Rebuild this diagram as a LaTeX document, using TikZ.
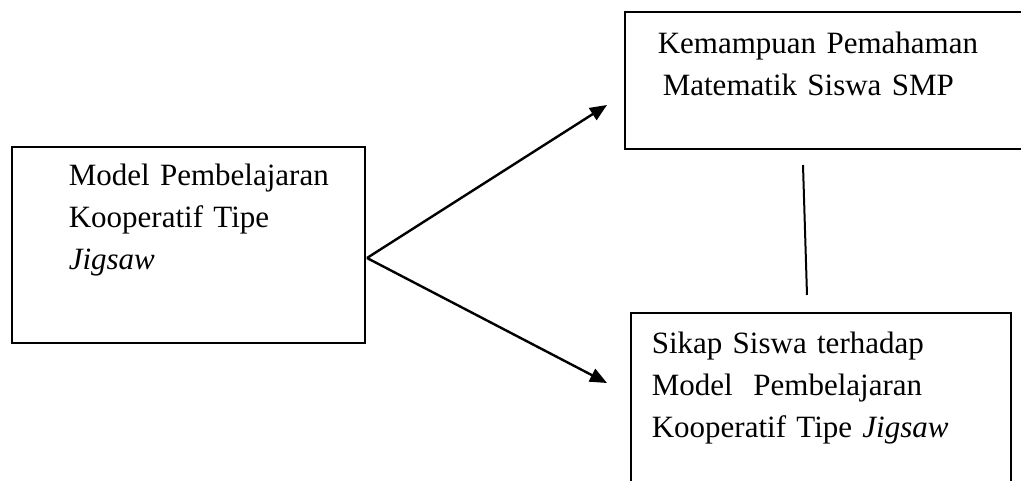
\documentclass[tikz,border=0pt]{standalone}
\usepackage{fontspec}
\setmainfont{Liberation Serif}
\usetikzlibrary{arrows.meta}
\tikzset{
  kotak/.style={draw, line width=1.6pt, anchor=north west, inner sep=0pt, align=left,
    font=\fontsize{31}{42}\selectfont},
  panah/.style={-{Triangle[length=17pt,width=14pt]}, line width=2.4pt}
}
\begin{document}
\begin{tikzpicture}[x=1pt,y=-1pt]
\useasboundingbox (0,0) rectangle (1021,481);
\node[kotak, text width=353pt, text height=39pt, text depth=157pt] (model) at (11,146)
  {\hspace*{57pt}Model Pembelajaran\\ \hspace*{57pt}Kooperatif Tipe\\ \hspace*{57pt}\textit{Jigsaw}};
\node[kotak, text width=405pt, text height=42pt, text depth=95pt] (kemampuan) at (624,11)
  {\hspace*{33pt}Kemampuan Pemahaman\\ \hspace*{38pt}Matematik Siswa SMP};
\node[kotak, text width=380pt, text height=41pt, text depth=140pt] (sikap) at (630,312)
  {\hspace*{21pt}Sikap Siswa terhadap\\ \hspace*{21pt}Model\ \ Pembelajaran\\ \hspace*{21pt}Kooperatif Tipe \textit{Jigsaw}};
\coordinate (pangkal) at (367,258);
\coordinate (ujung1) at (607,105);
\coordinate (ujung2) at (607,383);
\draw[panah] (pangkal) -- (ujung1);
\draw[panah] (pangkal) -- (ujung2);
% garis antara dua kotak kanan
\coordinate (atas) at (803,165);
\coordinate (bawah) at (807,295);
\draw[line width=2pt] (atas) -- (bawah);
\end{tikzpicture}
\end{document}
